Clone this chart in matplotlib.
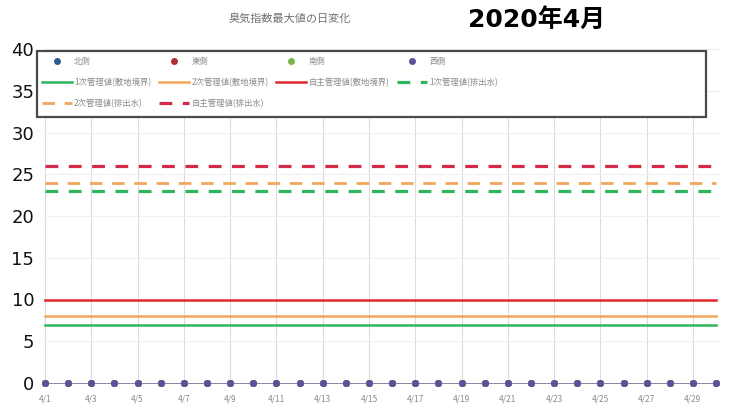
import numpy as np
import matplotlib
matplotlib.use('Agg')
import matplotlib.pyplot as plt
from matplotlib.patches import Rectangle

plt.rcParams['font.family'] = ['Noto Sans CJK JP', 'DejaVu Sans']

# 日付 (4/1 - 4/30)
days = np.arange(1, 31)
day_labels = [f'4/{d}' for d in days]

# 各測定点の臭気指数最大値 (全日 0)
north = [0] * 30
east = [0] * 30
south = [0] * 30
west = [0] * 30

# 管理値
site_1st = 7
site_2nd = 8
site_own = 10
drain_1st = 23
drain_2nd = 24
drain_own = 26

W, H = 731, 412
fig = plt.figure(figsize=(W / 100, H / 100), dpi=100)
ax = fig.add_axes([44 / W, 1 - 383 / H, 676 / W, 334 / H])

green = '#2fb55c'
orange = '#f2a65a'
red = '#e3262e'
red_d = '#d42a4a'

h_site1, = ax.plot(days, [site_1st] * 30, color=green, lw=1.8, label='1次管理値(敷地境界)')
h_site2, = ax.plot(days, [site_2nd] * 30, color=orange, lw=1.8, label='2次管理値(敷地境界)')
h_site3, = ax.plot(days, [site_own] * 30, color=red, lw=1.8, label='自主管理値(敷地境界)')
h_dr1, = ax.plot(days, [drain_1st] * 30, color=green, lw=2.3, dashes=(4, 3.3), label='1次管理値(排出水)')
h_dr2, = ax.plot(days, [drain_2nd] * 30, color=orange, lw=2.0, dashes=(4.5, 3.5), label='2次管理値(排出水)')
h_dr3, = ax.plot(days, [drain_own] * 30, color=red_d, lw=2.3, dashes=(4, 3.3), label='自主管理値(排出水)')

pts = {}
for name, vals, col in [('北側', north, '#2f5f8f'), ('東側', east, '#b0303a'),
                        ('南側', south, '#7ab648'), ('西側', west, '#5b5399')]:
    ax.plot(days, vals, color='#8a8aa8', lw=0.6, clip_on=False, zorder=3)
    pts[name], = ax.plot(days, vals, 'o', color=col, ms=4, clip_on=False,
                         zorder=4, label=name)

ax.set_xlim(0.957, 30.17)
ax.set_ylim(0, 40)
ax.set_yticks(range(0, 41, 5))
ax.set_xticks(days[::2])
ax.set_xticklabels(day_labels[::2])
ax.tick_params(axis='y', length=0, labelsize=13, pad=7, labelcolor='#111111')
ax.tick_params(axis='x', length=0, labelsize=6, pad=8, labelcolor='#8a8a8a')
for lab in ax.get_yticklabels():
    lab.set_family('DejaVu Sans')
ax.grid(axis='x', color='#dcdcdc', lw=0.8)
ax.grid(axis='y', color='#efefef', lw=0.8)
ax.set_axisbelow(True)
for s in ax.spines.values():
    s.set_visible(False)

# 凡例の枠
fig.patches.append(Rectangle((37 / W, 1 - 117 / H), 669 / W, 66 / H,
                             transform=fig.transFigure, facecolor='white',
                             edgecolor='#4a4a4a', lw=1.6, zorder=5))

handles = [pts['北側'], h_site1, h_dr2,
           pts['東側'], h_site2, h_dr3,
           pts['南側'], h_site3,
           pts['西側'], h_dr1]
leg = fig.legend(handles=handles, labels=[h.get_label() for h in handles],
                 ncol=4, loc='upper left',
                 bbox_to_anchor=(40 / W, 1 - 55 / H),
                 fontsize=6, labelcolor='#8c8c8c', frameon=False,
                 borderaxespad=0, borderpad=0.2,
                 handlelength=3.6, handletextpad=0.3, labelspacing=1.45,
                 columnspacing=0.9)
leg.set_zorder(6)

fig.text(290 / W, 1 - 18 / H, '臭気指数最大値の日変化', ha='center', va='center',
         fontsize=8, color='#707070')
fig.text(468 / W, 1 - 20 / H, '2020年4月', ha='left', va='center',
         fontsize=18, fontweight='bold', color='black',
         family=['DejaVu Sans', 'Noto Sans CJK JP'])

fig.savefig('out.png', dpi=100)
